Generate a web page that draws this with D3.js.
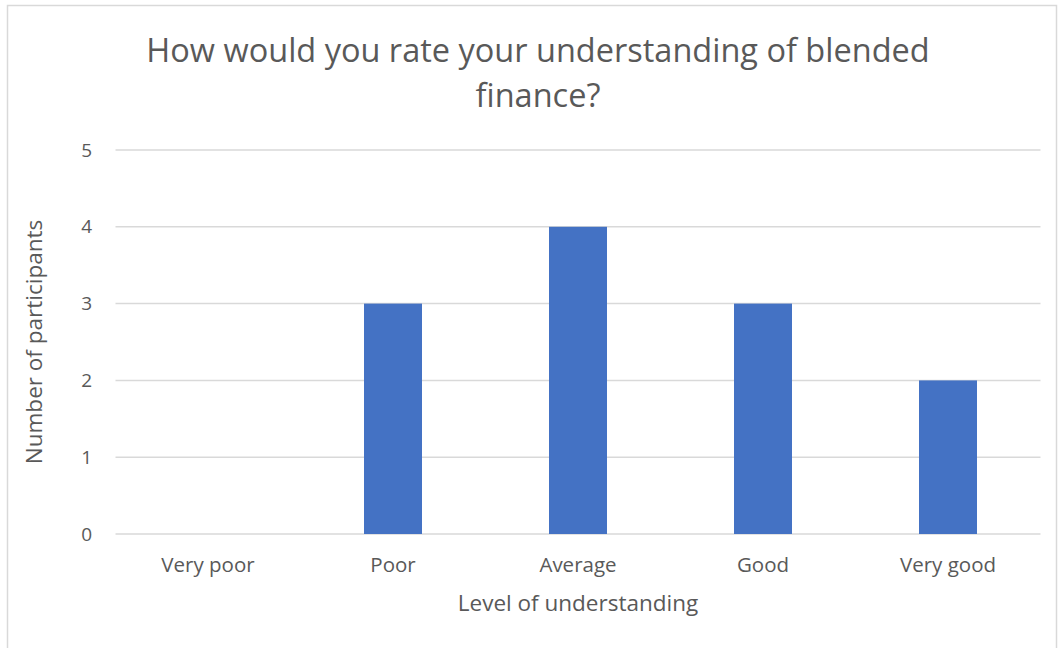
<!DOCTYPE html>
<html>
<head>
<meta charset="utf-8">
<script src="https://cdn.jsdelivr.net/npm/d3@7"></script>
<style>
  html, body { margin: 0; padding: 0; background: #fff; }
  svg { display: block; font-family: "Open Sans", Lato, sans-serif; }
</style>
</head>
<body>
<svg id="chart" width="1058" height="648"></svg>
<script>
const categories = ["Very poor", "Poor", "Average", "Good", "Very good"];
const participants = [0, 3, 4, 3, 2];
const yTicks = [0, 1, 2, 3, 4, 5];
const titleLines = ["How would you rate your understanding of blended", "finance?"];
const xTitle = "Level of understanding";
const yTitle = "Number of participants";

const svg = d3.select("#chart");
const plot = { left: 115.5, right: 1040.5, top: 150, bottom: 534 };
const textColor = "#595959";

// chart frame
svg.append("rect")
  .attr("x", 7.5).attr("y", 5.5)
  .attr("width", 1049).attr("height", 660)
  .attr("fill", "#fff").attr("stroke", "#d9d9d9").attr("stroke-width", 1.5);

const x = d3.scaleBand().domain(categories).range([plot.left, plot.right]).paddingInner(0).paddingOuter(0);
const y = d3.scaleLinear().domain([0, 5]).range([plot.bottom, plot.top]);

// horizontal gridlines
svg.append("g").selectAll("line").data(yTicks).join("line")
  .attr("x1", plot.left).attr("x2", plot.right)
  .attr("y1", d => y(d)).attr("y2", d => y(d))
  .attr("stroke", "#d9d9d9").attr("stroke-width", 1.5);

// y tick labels
svg.append("g").selectAll("text").data(yTicks).join("text")
  .attr("x", 92).attr("y", d => y(d)).attr("dy", "0.35em")
  .attr("text-anchor", "end").attr("fill", textColor).attr("font-size", 19)
  .text(d => d);

// bars
const barW = 58;
svg.append("g").selectAll("rect").data(categories).join("rect")
  .attr("x", d => x(d) + x.bandwidth() / 2 - barW / 2)
  .attr("width", barW)
  .attr("y", (d, i) => y(participants[i]))
  .attr("height", (d, i) => y(0) - y(participants[i]))
  .attr("fill", "#4472c4");

// x tick labels
svg.append("g").selectAll("text").data(categories).join("text")
  .attr("x", d => x(d) + x.bandwidth() / 2).attr("y", 572)
  .attr("text-anchor", "middle").attr("fill", textColor).attr("font-size", 20.5)
  .text(d => d);

// axis titles
svg.append("text")
  .attr("x", (plot.left + plot.right) / 2).attr("y", 611)
  .attr("text-anchor", "middle").attr("fill", textColor).attr("font-size", 22.5)
  .text(xTitle);

svg.append("text")
  .attr("transform", `translate(42, ${(plot.top + plot.bottom) / 2}) rotate(-90)`)
  .attr("text-anchor", "middle").attr("fill", textColor).attr("font-size", 22.5)
  .text(yTitle);

// chart title
svg.append("g").selectAll("text").data(titleLines).join("text")
  .attr("x", 538).attr("y", (d, i) => 62 + i * 45)
  .attr("text-anchor", "middle").attr("fill", textColor).attr("font-size", 32.5)
  .text(d => d);
</script>
</body>
</html>
